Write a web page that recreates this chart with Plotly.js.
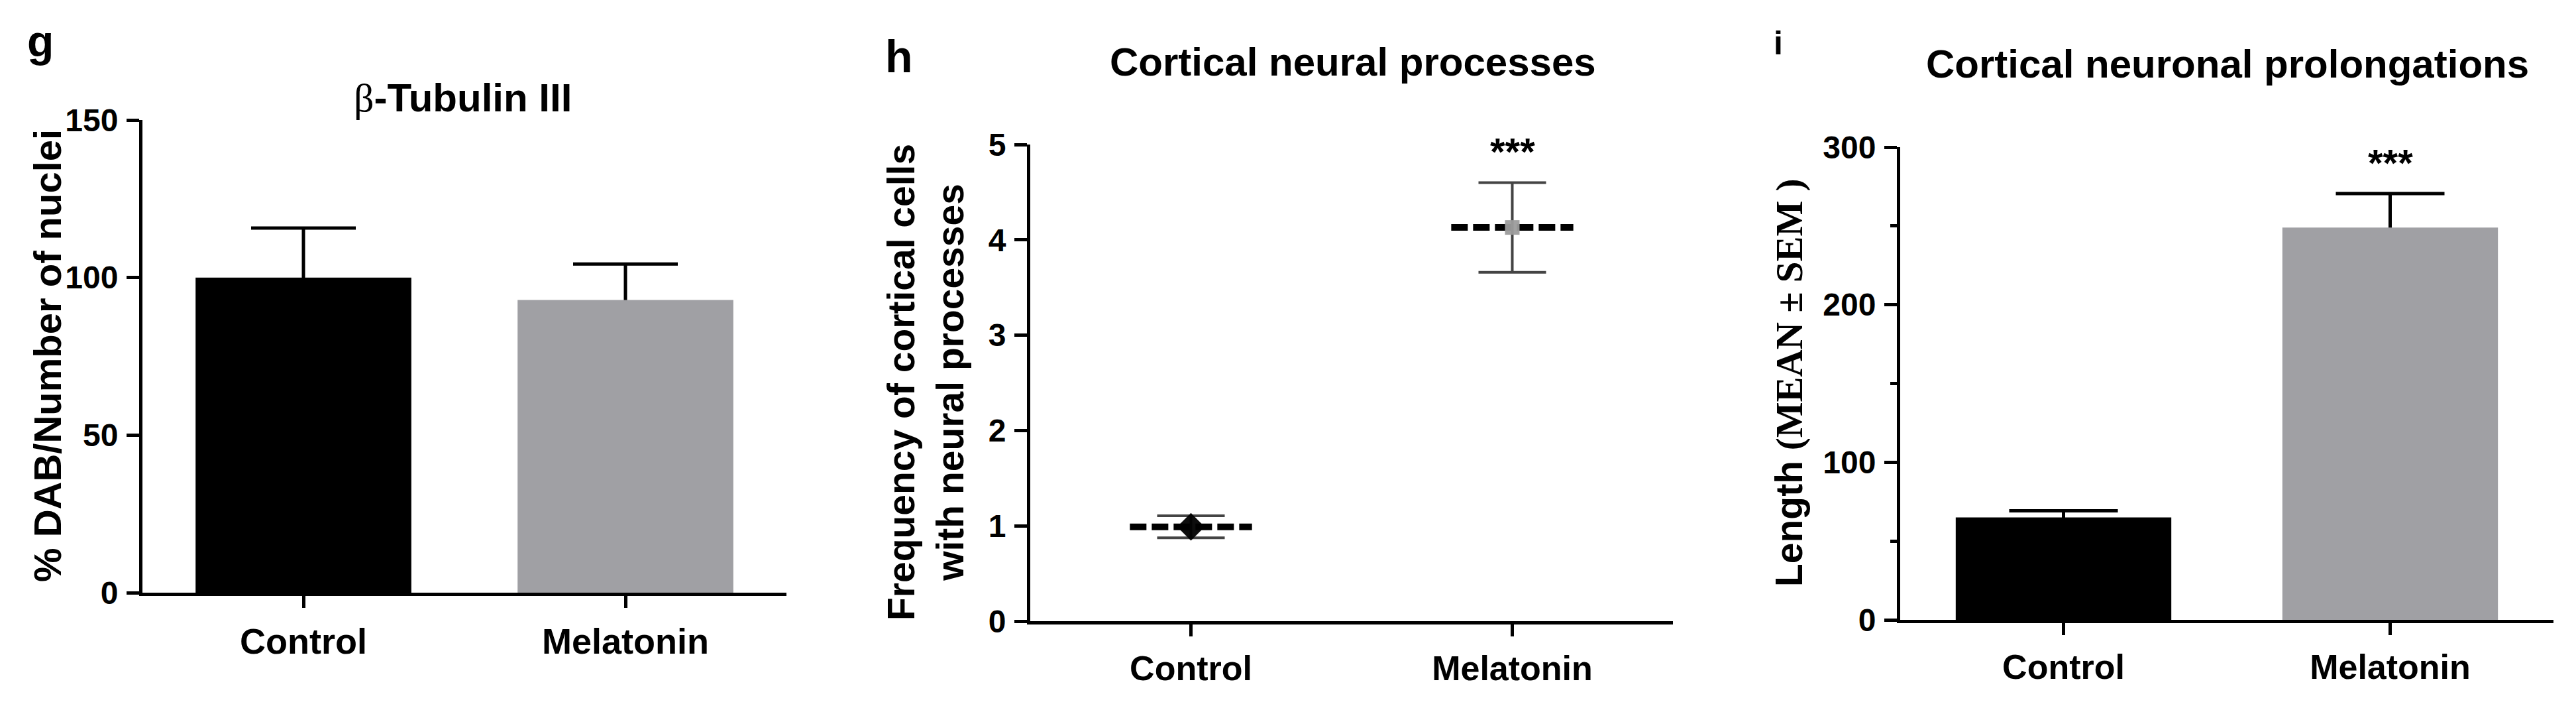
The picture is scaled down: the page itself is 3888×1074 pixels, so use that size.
<!DOCTYPE html>
<html>
<head>
<meta charset="utf-8">
<script src="https://cdn.plot.ly/plotly-3.0.1.min.js"></script>
<style>
  html, body { margin: 0; padding: 0; background: #ffffff; }
  #chart { width: 3888px; height: 1074px; }
</style>
</head>
<body>
<div id="chart"></div>
<script>
// ---- data ----
const categories = ['Control', 'Melatonin'];
const tubulinMean = [100, 92.9];
const tubulinSem = [15.7, 11.4];
const processMean = [0.99, 4.13];
const processSem = [0.115, 0.47];
const lengthMean = [65, 249];
const lengthSem = [4.2, 21.5];
const tubulinTicks = [0, 50, 100, 150];
const processTicks = [0, 1, 2, 3, 4, 5];
const lengthTicks = [0, 100, 200, 300];

// ---- helpers / styles ----
const W = 3888, H = 1074;
const px = v => v / W;
const py = v => 1 - v / H;
const SANS = 'Liberation Sans, Arial, sans-serif';
const BAR_COLORS = ['#000000', '#a0a0a4'];
const MARKER_COLORS = ['#000000', '#9c9c9c'];
const MARKER_SYMBOLS = ['diamond', 'square'];
const MARKER_SIZES = [32, 22];
const xs = categories.map((c, i) => i);

const traces = [];

// panel g: transparent bars carry the SEM bars, solid bars drawn on top hide the lower half
traces.push({
  type: 'bar', x: xs, y: tubulinMean, width: 0.67, xaxis: 'x', yaxis: 'y',
  marker: { color: 'rgba(0,0,0,0)' },
  error_y: { type: 'data', array: tubulinSem, symmetric: true, color: '#000', thickness: 5, width: 79 },
  hoverinfo: 'skip'
});
traces.push({
  type: 'bar', x: xs, y: tubulinMean, width: 0.67, xaxis: 'x', yaxis: 'y',
  marker: { color: BAR_COLORS, line: { width: 0 } }
});

// panel h: dashed mean lines, markers with SEM
const HALF = 0.19;
xs.forEach(i => {
  traces.push({
    type: 'scatter', mode: 'lines', xaxis: 'x2', yaxis: 'y2',
    x: [i - HALF, i + HALF], y: [processMean[i], processMean[i]],
    line: { color: '#000', width: 10, dash: '25px,8px' }
  });
});
traces.push({
  type: 'scatter', mode: 'markers', x: xs, y: processMean, xaxis: 'x2', yaxis: 'y2',
  marker: { symbol: MARKER_SYMBOLS, color: MARKER_COLORS, size: MARKER_SIZES, opacity: 0.95, line: { width: 0 } },
  error_y: { type: 'data', array: processSem, symmetric: true, color: '#444', thickness: 4, width: 51 }
});

// panel i
traces.push({
  type: 'bar', x: xs, y: lengthMean, width: 0.66, xaxis: 'x3', yaxis: 'y3',
  marker: { color: 'rgba(0,0,0,0)' },
  error_y: { type: 'data', array: lengthSem, symmetric: true, color: '#000', thickness: 5, width: 82 },
  hoverinfo: 'skip'
});
traces.push({
  type: 'bar', x: xs, y: lengthMean, width: 0.66, xaxis: 'x3', yaxis: 'y3',
  marker: { color: BAR_COLORS, line: { width: 0 } }
});

function xAxis(domain, anchor, fsize) {
  return {
    domain: domain, anchor: anchor, range: [-0.5, 1.5], fixedrange: true,
    tickmode: 'array', tickvals: xs, ticktext: categories,
    ticks: 'outside', ticklen: 18, tickwidth: 5, tickcolor: '#000',
    showline: true, linewidth: 5, linecolor: '#000',
    showgrid: false, zeroline: false, ticklabelstandoff: 4,
    tickfont: { family: SANS, size: fsize, weight: 'bold', color: '#000' }
  };
}
function yAxis(domain, anchor, range, ticks) {
  return {
    domain: domain, anchor: anchor, range: range, fixedrange: true,
    tickmode: 'array', tickvals: ticks,
    ticks: 'outside', ticklen: 19, tickwidth: 5, tickcolor: '#000',
    showline: true, linewidth: 5, linecolor: '#000',
    showgrid: false, zeroline: false, ticklabelstandoff: 3,
    tickfont: { family: SANS, size: 48, weight: 'bold', color: '#000' }
  };
}

const yi = yAxis([py(935), py(222)], 'x3', [0, 300], lengthTicks);
yi.minor = { ticks: 'outside', ticklen: 10, tickwidth: 5, tickcolor: '#000', dtick: 50, tick0: 0, showgrid: false };

function ann(x, y, text, size, extra) {
  return Object.assign({
    xref: 'paper', yref: 'paper', x: px(x), y: py(y), text: text, showarrow: false,
    xanchor: 'center', yanchor: 'middle',
    font: { family: SANS, size: size, weight: 'bold', color: '#000' }
  }, extra || {});
}

const layout = {
  width: W, height: H,
  margin: { l: 0, r: 0, t: 0, b: 0 },
  paper_bgcolor: '#ffffff', plot_bgcolor: 'rgba(0,0,0,0)',
  showlegend: false, barmode: 'overlay',
  xaxis: xAxis([px(215), px(1187)], 'y', 54),
  yaxis: yAxis([py(894), py(181)], 'x', [0, 150], tubulinTicks),
  xaxis2: xAxis([px(1555), px(2525)], 'y2', 52),
  yaxis2: yAxis([py(937), py(218)], 'x2', [0, 5], processTicks),
  xaxis3: xAxis([px(2868), px(3854)], 'y3', 52),
  yaxis3: yi,
  annotations: [
    ann(61, 62, 'g', 66),
    ann(1357, 85, 'h', 68),
    ann(2684, 65, 'i', 50),
    ann(698, 147, '<span style="font-family:Liberation Serif;font-weight:normal">β</span>-Tubulin III', 60),
    ann(2042, 94, 'Cortical neural processes', 60),
    ann(3362, 97, 'Cortical neuronal prolongations', 60),
    ann(71, 537, '% DAB/Number of nuclei', 58, { textangle: -90 }),
    ann(1397, 577, 'Frequency of cortical cells<br>with neural processes', 57, { textangle: -90 }),
    ann(2700, 578, 'Length <span style="font-family:Liberation Serif">(MEAN ± SEM )</span>', 57, { textangle: -90 }),
    { xref: 'x2', yref: 'y2', x: 1, y: 4.93, text: '***', showarrow: false, xanchor: 'center', yanchor: 'middle',
      font: { family: SANS, size: 58, weight: 'bold', color: '#000' } },
    { xref: 'x3', yref: 'y3', x: 1, y: 290, text: '***', showarrow: false, xanchor: 'center', yanchor: 'middle',
      font: { family: SANS, size: 58, weight: 'bold', color: '#000' } }
  ]
};

Plotly.newPlot('chart', traces, layout, { staticPlot: true, displayModeBar: false });
</script>
</body>
</html>
